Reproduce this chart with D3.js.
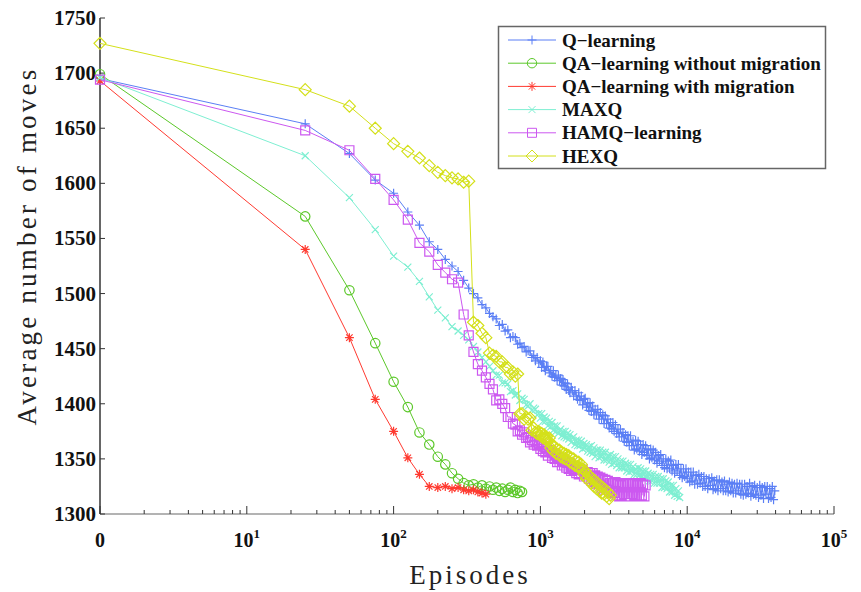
<!DOCTYPE html>
<html>
<head>
<meta charset="utf-8">
<script src="https://cdn.jsdelivr.net/npm/d3@7"></script>
<style>
  html, body { margin: 0; padding: 0; background: #fff; }
  svg { display: block; }
  text { font-family: "Liberation Serif", "DejaVu Serif", serif; }
</style>
</head>
<body>
<svg id="chart" width="861" height="592"></svg>
<script>
// episode grid shared by all series (each series uses the first N entries)
const episodes = [
  0, 25, 50, 75, 100, 125, 150, 175, 200, 225,
  250, 275, 300, 325, 350, 375, 400, 425, 450, 475,
  500, 525, 550, 575, 600, 625, 650, 675, 700, 725,
  750, 775, 800, 825, 850, 875, 900, 925, 950, 975,
  1000, 1020, 1040, 1060, 1080, 1100, 1125, 1150, 1175, 1200,
  1225, 1250, 1275, 1300, 1325, 1350, 1375, 1400, 1425, 1450,
  1475, 1500, 1530, 1560, 1590, 1620, 1650, 1685, 1720, 1755,
  1790, 1825, 1860, 1900, 1940, 1980, 2020, 2060, 2100, 2140,
  2180, 2225, 2270, 2315, 2360, 2410, 2460, 2510, 2560, 2610,
  2660, 2715, 2770, 2825, 2880, 2940, 3000, 3060, 3120, 3180,
  3245, 3310, 3375, 3440, 3510, 3580, 3650, 3725, 3800, 3875,
  3950, 4030, 4110, 4190, 4275, 4360, 4450, 4540, 4630, 4720,
  4815, 4910, 5010, 5110, 5210, 5315, 5420, 5530, 5640, 5750,
  5865, 5985, 6100, 6225, 6350, 6475, 6600, 6735, 6870, 7000,
  7150, 7290, 7435, 7585, 7735, 7890, 8050, 8210, 8375, 8540,
  8710, 8885, 9065, 9245, 9430, 9620, 9810, 10000, 10200, 10400,
  10600, 10800, 11000, 11250, 11500, 11750, 12000, 12250, 12500, 12750,
  13000, 13250, 13500, 13800, 14100, 14400, 14700, 15000, 15300, 15600,
  15900, 16200, 16550, 16900, 17250, 17600, 17950, 18300, 18650, 19000,
  19400, 19800, 20200, 20600, 21000, 21400, 21850, 22300, 22750, 23200,
  23650, 24100, 24600, 25100, 25600, 26100, 26600, 27150, 27700, 28250,
  28800, 29400, 30000, 30600, 31200, 31800, 32450, 33100, 33750, 34400,
  35100, 35800, 36500, 37250, 38000, 38750, 39500
]

const qLearning = [
  1695, 1654, 1627, 1603, 1591, 1574, 1562, 1547, 1540, 1531,
  1525, 1520, 1512, 1505, 1500, 1496, 1490, 1487, 1482, 1479,
  1477, 1471, 1472, 1466, 1467, 1460, 1461, 1460, 1454, 1455,
  1451, 1452, 1447, 1448, 1448, 1442, 1444, 1439, 1442, 1437,
  1439, 1433, 1438, 1433, 1430, 1434, 1434, 1428, 1430, 1425,
  1430, 1424, 1426, 1421, 1426, 1421, 1423, 1417, 1422, 1416,
  1419, 1413, 1418, 1412, 1410, 1415, 1412, 1407, 1412, 1407,
  1404, 1410, 1403, 1407, 1399, 1404, 1405, 1397, 1400, 1394,
  1401, 1393, 1398, 1390, 1395, 1390, 1395, 1386, 1392, 1386,
  1390, 1382, 1389, 1382, 1386, 1378, 1383, 1377, 1383, 1375,
  1381, 1373, 1377, 1370, 1377, 1370, 1374, 1366, 1372, 1365,
  1371, 1362, 1371, 1362, 1366, 1358, 1367, 1359, 1366, 1357,
  1363, 1354, 1363, 1356, 1362, 1353, 1358, 1350, 1359, 1351,
  1358, 1349, 1356, 1346, 1353, 1348, 1354, 1344, 1350, 1342,
  1350, 1341, 1348, 1341, 1349, 1339, 1344, 1337, 1345, 1339,
  1345, 1335, 1341, 1333, 1341, 1334, 1341, 1332, 1338, 1329,
  1338, 1330, 1338, 1327, 1335, 1327, 1336, 1328, 1334, 1325,
  1334, 1325, 1332, 1323, 1332, 1326, 1333, 1322, 1330, 1323,
  1331, 1321, 1331, 1323, 1329, 1321, 1330, 1321, 1327, 1320,
  1329, 1321, 1328, 1319, 1327, 1319, 1328, 1321, 1327, 1318,
  1327, 1317, 1327, 1318, 1325, 1319, 1328, 1316, 1325, 1318,
  1326, 1317, 1324, 1315, 1326, 1317, 1324, 1314, 1325, 1318,
  1325, 1314, 1323, 1315, 1325, 1313, 1321
]

const qaWithoutMigration = [
  1699, 1570, 1503, 1455, 1420, 1397, 1374, 1363, 1352, 1345,
  1337, 1332, 1328, 1326, 1327, 1324, 1326, 1323, 1325, 1322,
  1324, 1321, 1323, 1320, 1322, 1324, 1320, 1322, 1319, 1321,
  1320
]

const qaWithMigration = [
  1693, 1540, 1460, 1404, 1375, 1351, 1336, 1325, 1324, 1325,
  1323, 1324, 1322, 1321, 1322, 1320, 1319, 1318
]

const maxq = [
  1696, 1625, 1587, 1558, 1534, 1524, 1511, 1497, 1485, 1478,
  1470, 1466, 1462, 1458, 1452, 1447, 1442, 1438, 1434, 1430,
  1426, 1426, 1419, 1419, 1418, 1411, 1412, 1408, 1409, 1403,
  1405, 1404, 1399, 1398, 1400, 1394, 1396, 1395, 1390, 1391,
  1387, 1391, 1384, 1388, 1384, 1387, 1380, 1384, 1379, 1383,
  1376, 1380, 1375, 1380, 1373, 1376, 1377, 1371, 1375, 1370,
  1375, 1369, 1373, 1368, 1372, 1365, 1369, 1370, 1363, 1367,
  1362, 1367, 1362, 1366, 1359, 1364, 1360, 1363, 1357, 1361,
  1356, 1362, 1355, 1360, 1352, 1358, 1358, 1351, 1358, 1352,
  1356, 1349, 1356, 1349, 1353, 1347, 1354, 1345, 1352, 1346,
  1352, 1344, 1350, 1342, 1348, 1342, 1348, 1342, 1346, 1339,
  1345, 1338, 1345, 1339, 1343, 1336, 1341, 1336, 1342, 1335,
  1341, 1334, 1339, 1332, 1339, 1333, 1337, 1330, 1336, 1330,
  1336, 1328, 1334, 1328, 1334, 1328, 1332, 1324, 1332, 1324,
  1330, 1323, 1329, 1320, 1326, 1320, 1326, 1317, 1323, 1316,
  1321, 1315
]

const hamqLearning = [
  1694, 1648, 1630, 1604, 1585, 1567, 1546, 1538, 1526, 1519,
  1513, 1510, 1481, 1462, 1447, 1436, 1430, 1424, 1418, 1413,
  1403, 1404, 1400, 1396, 1388, 1388, 1382, 1381, 1375, 1376,
  1372, 1374, 1369, 1370, 1365, 1367, 1363, 1366, 1362, 1364,
  1359, 1363, 1357, 1361, 1356, 1360, 1353, 1357, 1358, 1351,
  1355, 1350, 1354, 1347, 1351, 1347, 1351, 1344, 1348, 1344,
  1348, 1342, 1346, 1341, 1346, 1339, 1343, 1340, 1343, 1337,
  1341, 1336, 1341, 1336, 1340, 1334, 1338, 1334, 1338, 1332,
  1337, 1330, 1337, 1329, 1335, 1327, 1334, 1327, 1333, 1324,
  1332, 1322, 1331, 1322, 1330, 1320, 1328, 1319, 1328, 1319,
  1329, 1317, 1327, 1316, 1326, 1317, 1328, 1318, 1327, 1316,
  1327, 1316, 1328, 1318, 1327, 1317, 1328, 1316, 1326, 1317,
  1328, 1317, 1327, 1316, 1326
]

const hexq = [
  1727, 1685, 1670, 1650, 1636, 1629, 1623, 1616, 1610, 1607,
  1605, 1604, 1601, 1602, 1474, 1471, 1464, 1460, 1446, 1444,
  1443, 1438, 1438, 1433, 1433, 1427, 1429, 1425, 1427, 1391,
  1391, 1386, 1388, 1386, 1387, 1376, 1378, 1374, 1373, 1375,
  1371, 1373, 1369, 1372, 1368, 1370, 1367, 1369, 1360, 1362,
  1357, 1361, 1355, 1359, 1354, 1358, 1352, 1356, 1351, 1355,
  1350, 1354, 1349, 1353, 1347, 1351, 1346, 1350, 1344, 1348,
  1343, 1347, 1342, 1345, 1341, 1336, 1339, 1332, 1336, 1330,
  1334, 1328, 1332, 1325, 1330, 1323, 1328, 1321, 1326, 1319,
  1324, 1318, 1322, 1316, 1320, 1314, 1317
]

const seriesNames = [
  "Q\u2212learning",
  "QA\u2212learning without migration",
  "QA\u2212learning with migration",
  "MAXQ",
  "HAMQ\u2212learning",
  "HEXQ"
]
const seriesValues = [qLearning, qaWithoutMigration, qaWithMigration, maxq, hamqLearning, hexq]

const yTicks = [1300, 1350, 1400, 1450, 1500, 1550, 1600, 1650, 1700, 1750]
const xTickValues = [1, 10, 100, 1000, 10000, 100000]
const xTickBase = ["0", "10", "10", "10", "10", "10"]
const xTickExp = ["", "1", "2", "3", "4", "5"]

// styles
const colors = ["#5b7ff5", "#5cc82a", "#ff3a30", "#7eefd2", "#cc58f0", "#d4e01a"]
const markers = ["plus", "circle", "star", "cross", "square", "diamond"]

const svg = d3.select("#chart")
const plotLeft = 100, plotRight = 834, plotTop = 18, plotBottom = 514

const x = d3.scaleLog().domain([1, 100000]).range([plotLeft, plotRight])
const y = d3.scaleLinear().domain([1300, 1750]).range([plotBottom, plotTop])
const px = (e) => x(Math.max(1, e))

function markerPath(type, cx, cy) {
  switch (type) {
    case "plus":
      return `M${cx - 4.5},${cy}h9M${cx},${cy - 4.5}v9`
    case "cross":
      return `M${cx - 3.5},${cy - 3.5}l7,7M${cx - 3.5},${cy + 3.5}l7,-7`
    case "star":
      return `M${cx - 4.5},${cy}h9M${cx},${cy - 4.5}v9M${cx - 3.2},${cy - 3.2}l6.4,6.4M${cx - 3.2},${cy + 3.2}l6.4,-6.4`
    case "square":
      return `M${cx - 4.5},${cy - 4.5}h9v9h-9Z`
    case "diamond":
      return `M${cx},${cy - 6}L${cx + 6},${cy}L${cx},${cy + 6}L${cx - 6},${cy}Z`
    default: // circle
      return `M${cx + 4.7},${cy}A4.7,4.7 0 1 1 ${cx - 4.7},${cy}A4.7,4.7 0 1 1 ${cx + 4.7},${cy}Z`
  }
}

// axes
const axisG = svg.append("g")
axisG.append("line")
  .attr("x1", plotLeft).attr("x2", plotRight).attr("y1", plotBottom).attr("y2", plotBottom)
  .attr("stroke", "#9a9a9a").attr("stroke-width", 1.5)
axisG.append("line")
  .attr("x1", plotLeft).attr("x2", plotLeft).attr("y1", plotTop).attr("y2", plotBottom)
  .attr("stroke", "#333").attr("stroke-width", 1.5)

const allTicks = x.ticks()
axisG.selectAll("line.xt")
  .data(allTicks)
  .join("line")
  .attr("class", "xt")
  .attr("x1", (d) => x(d)).attr("x2", (d) => x(d))
  .attr("y1", plotBottom)
  .attr("y2", (d) => xTickValues.includes(d) ? plotBottom - 8 : plotBottom - 4)
  .attr("stroke", "#333").attr("stroke-width", 1)

axisG.selectAll("line.yt")
  .data(yTicks)
  .join("line")
  .attr("class", "yt")
  .attr("x1", plotLeft).attr("x2", plotLeft + 5)
  .attr("y1", (d) => y(d)).attr("y2", (d) => y(d))
  .attr("stroke", "#333").attr("stroke-width", 1)

axisG.selectAll("text.yl")
  .data(yTicks)
  .join("text")
  .attr("class", "yl")
  .attr("x", plotLeft - 4)
  .attr("y", (d) => y(d) + 7)
  .attr("text-anchor", "end")
  .attr("font-weight", "bold")
  .attr("font-size", 21)
  .attr("fill", "#111")
  .text((d) => d)

const xl = axisG.selectAll("text.xl")
  .data(xTickValues)
  .join("text")
  .attr("class", "xl")
  .attr("x", (d) => x(d))
  .attr("y", 547)
  .attr("text-anchor", "middle")
  .attr("font-weight", "bold")
  .attr("font-size", 20)
  .attr("fill", "#111")
xl.append("tspan").text((d, i) => xTickBase[i])
xl.append("tspan")
  .attr("dy", -9)
  .attr("font-size", 13)
  .text((d, i) => xTickExp[i])

svg.append("text")
  .attr("x", 470)
  .attr("y", 584)
  .attr("text-anchor", "middle")
  .attr("font-size", 27)
  .attr("letter-spacing", 3)
  .attr("fill", "#222")
  .text("Episodes")

svg.append("text")
  .attr("transform", "translate(36,246) rotate(-90)")
  .attr("text-anchor", "middle")
  .attr("font-size", 27)
  .attr("letter-spacing", 3.2)
  .attr("fill", "#222")
  .text("Average number of moves")

// series
const line = d3.line().x((d) => px(d[0])).y((d) => y(d[1]))
const plot = svg.append("g")
seriesValues.forEach((vals, i) => {
  const pts = vals.map((v, k) => [episodes[k], v])
  const g = plot.append("g")
  g.append("path")
    .attr("d", line(pts))
    .attr("fill", "none")
    .attr("stroke", colors[i])
    .attr("stroke-width", 1)
  g.append("path")
    .attr("d", pts.map((d) => markerPath(markers[i], px(d[0]), y(d[1]))).join(""))
    .attr("fill", "none")
    .attr("stroke", colors[i])
    .attr("stroke-width", 1.2)
})

// legend
const lg = svg.append("g")
lg.append("rect")
  .attr("x", 498.5).attr("y", 26.5).attr("width", 327).attr("height", 142)
  .attr("fill", "#fff").attr("stroke", "#666").attr("stroke-width", 1.5)
seriesNames.forEach((name, i) => {
  const ly = 40 + i * 23.2
  lg.append("line")
    .attr("x1", 508).attr("x2", 556).attr("y1", ly).attr("y2", ly)
    .attr("stroke", colors[i]).attr("stroke-width", 1)
  lg.append("path")
    .attr("d", markerPath(markers[i], 532, ly))
    .attr("fill", "none").attr("stroke", colors[i]).attr("stroke-width", 1)
  lg.append("text")
    .attr("x", 562).attr("y", ly + 6.5)
    .attr("font-weight", "bold")
    .attr("font-size", 19)
    .attr("fill", "#111")
    .text(name)
})
</script>
</body>
</html>
